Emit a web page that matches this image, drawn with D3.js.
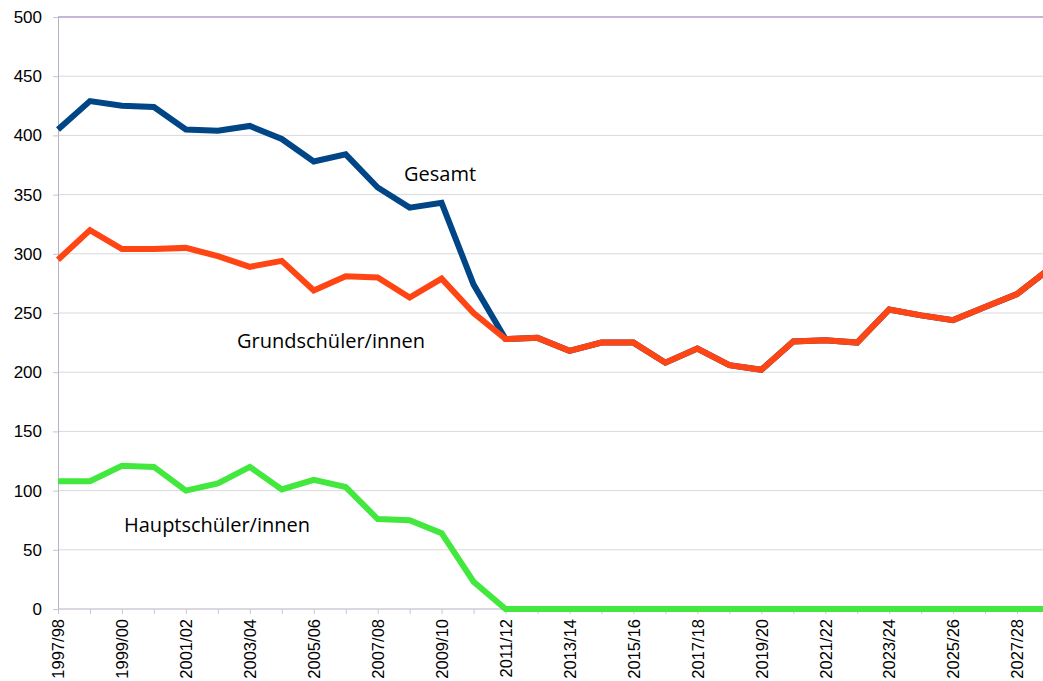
<!DOCTYPE html>
<html>
<head>
<meta charset="utf-8">
<script src="https://cdn.jsdelivr.net/npm/d3@7"></script>
<style>
  body { margin: 0; background: #fff; }
  svg { display: block; }
</style>
</head>
<body>
<svg id="chart" width="1043" height="681"></svg>
<script>
// school years 1997/98 .. 2028/29
var years = [];
for (var yr = 1997; yr <= 2028; yr++) {
  years.push(yr + "/" + String((yr + 1) % 100).padStart(2, "0"));
}

var gesamt = [405, 429, 425, 424, 405, 404, 408, 397, 378, 384, 356, 339, 343, 274, 228,
  229, 218, 225, 225, 208, 220, 206, 202, 226, 227, 225, 253, 248, 244, 255, 266, 287];
var grundschueler = [295, 320, 304, 304, 305, 298, 289, 294, 269, 281, 280, 263, 279, 250, 228,
  229, 218, 225, 225, 208, 220, 206, 202, 226, 227, 225, 253, 248, 244, 255, 266, 287];
var hauptschueler = [108, 108, 121, 120, 100, 106, 120, 101, 109, 103, 76, 75, 64, 23, 0,
  0, 0, 0, 0, 0, 0, 0, 0, 0, 0, 0, 0, 0, 0, 0, 0, 0];

var yTicks = [0, 50, 100, 150, 200, 250, 300, 350, 400, 450, 500];

var series = [
  { name: "Gesamt", values: gesamt, color: "#004586", lx: 404, ly: 181 },
  { name: "Grundschüler/innen", values: grundschueler, color: "#ff4513", lx: 237, ly: 348 },
  { name: "Hauptschüler/innen", values: hauptschueler, color: "#43e83f", lx: 124, ly: 532 }
];

var svg = d3.select("#chart");
var plotLeft = 58, plotTop = 17, plotBottom = 609, plotRight = 1049;

var x = d3.scalePoint().domain(years).range([plotLeft, plotRight]);
var yScale = d3.scaleLinear().domain([0, 500]).range([plotBottom, plotTop]);

// gridlines
svg.append("g")
  .selectAll("line")
  .data(yTicks.slice(1, -1))
  .enter().append("line")
  .attr("x1", plotLeft).attr("x2", 1043)
  .attr("y1", function(d) { return yScale(d); })
  .attr("y2", function(d) { return yScale(d); })
  .attr("stroke", "#d9d9d9")
  .attr("stroke-width", 1);

// top border
svg.append("line")
  .attr("x1", plotLeft).attr("x2", 1043)
  .attr("y1", yScale(500)).attr("y2", yScale(500))
  .attr("stroke", "#b49cc8").attr("stroke-width", 1.5);

// y axis
var yAxis = svg.append("g")
  .attr("transform", "translate(" + plotLeft + ",0)")
  .call(d3.axisLeft(yScale).tickValues(yTicks).tickSize(5).tickPadding(11));
yAxis.select(".domain").attr("stroke", "#b8b0c4");
yAxis.selectAll(".tick line").attr("stroke", "#c8c8c8");
yAxis.selectAll("text")
  .attr("fill", "#000")
  .style("font-family", "'Liberation Sans', Arial, sans-serif")
  .style("font-size", "17px");

// x axis
var xAxis = svg.append("g")
  .attr("transform", "translate(0," + plotBottom + ")")
  .call(d3.axisBottom(x).tickSize(5).tickFormat(function(d, i) { return i % 2 === 0 ? d : ""; }));
xAxis.select(".domain").attr("stroke", "#b8b0c4").attr("d", "M" + plotLeft + ",0H1043");
xAxis.selectAll(".tick line").attr("stroke", "#c8c8c8");
xAxis.selectAll("text")
  .attr("fill", "#000")
  .attr("transform", "rotate(-90)")
  .attr("text-anchor", "end")
  .attr("x", -10)
  .attr("y", 0)
  .attr("dy", "0.35em")
  .style("font-family", "'Liberation Sans', Arial, sans-serif")
  .style("font-size", "16.5px");

// lines
var line = d3.line()
  .x(function(d, i) { return x(years[i]); })
  .y(function(d) { return yScale(d); });

svg.append("g")
  .selectAll("path")
  .data(series)
  .enter().append("path")
  .attr("d", function(d) { return line(d.values); })
  .attr("fill", "none")
  .attr("stroke", function(d) { return d.color; })
  .attr("stroke-width", 6)
  .attr("stroke-linejoin", "miter");

// series labels
svg.append("g")
  .selectAll("text")
  .data(series)
  .enter().append("text")
  .attr("x", function(d) { return d.lx; })
  .attr("y", function(d) { return d.ly; })
  .style("font-family", "'Open Sans', sans-serif")
  .style("font-size", "20px")
  .attr("fill", "#000")
  .text(function(d) { return d.name; });
</script>
</body>
</html>
